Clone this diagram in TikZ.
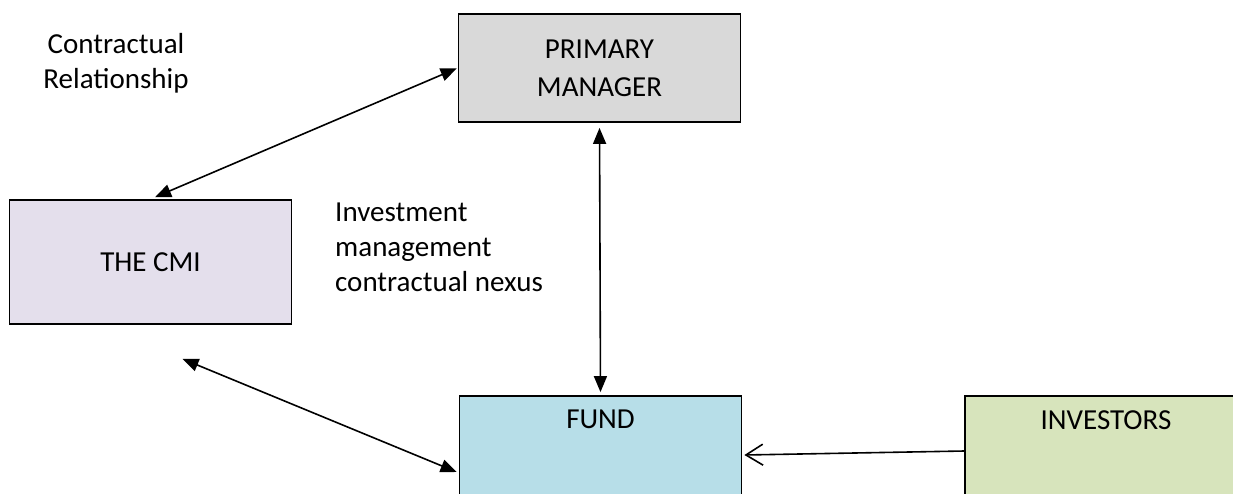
\documentclass[tikz,border=0pt]{standalone}
\usepackage{fontspec}
\setmainfont{Carlito}
\usetikzlibrary{arrows.meta}
\definecolor{pmgray}{HTML}{D9D9D9}
\definecolor{cmililac}{HTML}{E4DFEC}
\definecolor{fundblue}{HTML}{B7DEE8}
\definecolor{invgreen}{HTML}{D7E4BC}
\tikzset{x=1pt, y=-1pt,
    every node/.style={
        font=\fontsize{29}{35}\selectfont},
    block/.style={
        draw,
        line width=1.8pt,
        minimum width=282pt,
        inner sep=0pt,
        align=center},
    link/.style={
        draw,
        line width=1.6pt,
        {Triangle[length=16pt,width=13pt]}-{Triangle[length=16pt,width=13pt]}},
    feed/.style={
        draw,
        line width=1.6pt,
        -{Straight Barb[length=17pt,width=21pt,line width=1.6pt]}}}

\begin{document}
\begin{tikzpicture}
        \useasboundingbox (0,0) rectangle (1233,493);
        \clip (0,0) rectangle (1233,493);

        \node[block,fill=pmgray,minimum height=108pt] (pm) at (599.5,68) {PRIMARY\\[3pt]MANAGER};
        \node[block,fill=cmililac,minimum height=124pt] (cmi) at (150.5,262) {THE CMI};
        \node[block,fill=fundblue,minimum height=124pt,
            label={[anchor=north,inner sep=0pt,yshift=-15pt]north:FUND}] (fund) at (600.5,458) {};
        \node[block,fill=invgreen,minimum height=124pt,
            label={[anchor=north,inner sep=0pt,yshift=-15pt]north:INVESTORS}] (inv) at (1106,458) {};

        \node[align=center] (contract) at (116,63) {Contractual\\Relationship};
        \node[align=left,anchor=west,inner sep=0pt] (nexus) at (335,247) {Investment\\management\\contractual nexus};

        \draw (cmi.north) edge[link,shorten <=5pt,shorten >=1pt] (pm.west);
        \draw (pm.south) edge[link,shorten <=5pt,shorten >=3pt] (fund.north);
        \draw ([shift={(32,34)}]cmi.south) edge[link] ([shift={(-2,14)}]fund.west);
        \draw ([shift={(0,-7)}]inv.west) edge[feed] ([shift={(2,-3)}]fund.east);
    \end{tikzpicture}
\end{document}
